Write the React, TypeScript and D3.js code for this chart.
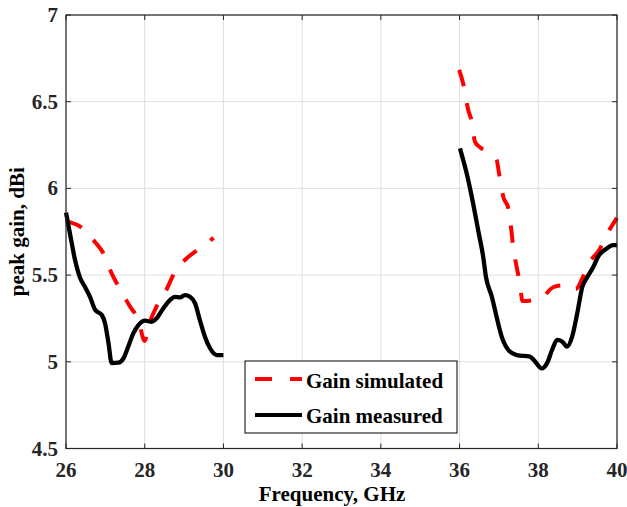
import React from "react";
import * as d3 from "d3";

const xTicks = [26, 28, 30, 32, 34, 36, 38, 40];
const yTicks = [4.5, 5, 5.5, 6, 6.5, 7];
const yTickLabels = ["4.5", "5", "5.5", "6", "6.5", "7"];

// Gain simulated (two bands)
const simLowF = [26.0, 26.36, 26.74, 26.95, 27.16, 27.37, 27.63, 27.84, 28.0, 28.09, 28.3, 28.56, 28.77, 29.02, 29.4, 29.75];
const simLowG = [5.81, 5.78, 5.69, 5.626, 5.51, 5.42, 5.318, 5.24, 5.12, 5.2, 5.318, 5.42, 5.52, 5.587, 5.655, 5.715];
const simHighF = [35.99, 36.1, 36.22, 36.31, 36.39, 36.52, 36.69, 36.94, 37.01, 37.11, 37.24, 37.32, 37.36, 37.45, 37.53, 37.6, 38.06, 38.38, 38.6, 38.85, 38.95, 39.02, 39.1, 39.31, 39.52, 39.78, 40.0];
const simHighG = [6.683, 6.596, 6.452, 6.385, 6.27, 6.237, 6.212, 6.164, 6.077, 5.952, 5.885, 5.75, 5.664, 5.548, 5.453, 5.35, 5.366, 5.43, 5.44, 5.44, 5.42, 5.433, 5.472, 5.577, 5.635, 5.75, 5.83];

// Gain measured (two bands)
const measLowF = [26.0, 26.1, 26.23, 26.36, 26.48, 26.61, 26.74, 26.91, 26.99, 27.08, 27.16, 27.33, 27.46, 27.58, 27.71, 27.84, 28.01, 28.18, 28.3, 28.47, 28.64, 28.77, 28.9, 29.02, 29.15, 29.28, 29.4, 29.53, 29.66, 29.83, 30.0];
const measLowG = [5.86, 5.74, 5.587, 5.483, 5.433, 5.375, 5.3, 5.27, 5.224, 5.107, 4.993, 4.995, 5.02, 5.087, 5.164, 5.212, 5.237, 5.231, 5.25, 5.308, 5.356, 5.375, 5.372, 5.385, 5.375, 5.337, 5.241, 5.145, 5.078, 5.039, 5.039];
const measHighF = [36.01, 36.18, 36.31, 36.48, 36.6, 36.67, 36.82, 36.94, 37.07, 37.24, 37.45, 37.79, 37.92, 38.09, 38.22, 38.35, 38.48, 38.61, 38.73, 38.86, 38.99, 39.12, 39.23, 39.4, 39.52, 39.74, 39.9, 40.0];
const measHighG = [6.231, 6.087, 5.952, 5.75, 5.606, 5.49, 5.375, 5.26, 5.145, 5.068, 5.039, 5.03, 5.001, 4.962, 4.991, 5.068, 5.126, 5.116, 5.087, 5.145, 5.28, 5.433, 5.482, 5.548, 5.606, 5.654, 5.673, 5.673];

const legendLabels = ["Gain simulated", "Gain measured"];

const W = 627;
const H = 507;
const left = 66, right = 617, top = 15, bottom = 448.5;
const font = "'Liberation Serif', 'Times New Roman', serif";
const axisColor = "#262626";
const fs = 21;

export default function App() {
  const x = d3.scaleLinear().domain([26, 40]).range([left, right]);
  const y = d3.scaleLinear().domain([4.5, 7]).range([bottom, top]);
  const line = d3
    .line<[number, number]>()
    .x((d) => x(d[0]))
    .y((d) => y(d[1]))
    .curve(d3.curveMonotoneX);
  const zip = (a: number[], b: number[]) => a.map((v, i) => [v, b[i]] as [number, number]);

  const dash = "17 17";
  const tickLen = 5;

  return (
    <div style={{ position: "absolute", left: 0, top: 0 }}>
      <svg width={W} height={H} style={{ display: "block", background: "#fff" }}>
        <rect x={0} y={0} width={W} height={H} fill="#fff" />
        {/* grid */}
        {xTicks.map((t) => (
          <line key={"gx" + t} x1={x(t)} x2={x(t)} y1={top} y2={bottom} stroke="#dedede" strokeWidth={1} />
        ))}
        {yTicks.map((t) => (
          <line key={"gy" + t} x1={left} x2={right} y1={y(t)} y2={y(t)} stroke="#dedede" strokeWidth={1} />
        ))}
        {/* ticks */}
        {xTicks.map((t) => (
          <g key={"tx" + t}>
            <line x1={x(t)} x2={x(t)} y1={bottom} y2={bottom - tickLen} stroke={axisColor} />
            <line x1={x(t)} x2={x(t)} y1={top} y2={top + tickLen} stroke={axisColor} />
            <text x={x(t)} y={477} textAnchor="middle" fontFamily={font} fontWeight="bold" fontSize={fs} fill={axisColor}>
              {t}
            </text>
          </g>
        ))}
        {yTicks.map((t, i) => (
          <g key={"ty" + t}>
            <line x1={left} x2={left + tickLen} y1={y(t)} y2={y(t)} stroke={axisColor} />
            <line x1={right} x2={right - tickLen} y1={y(t)} y2={y(t)} stroke={axisColor} />
            <text x={58} y={y(t) + 7} textAnchor="end" fontFamily={font} fontWeight="bold" fontSize={fs} fill={axisColor}>
              {yTickLabels[i]}
            </text>
          </g>
        ))}
        {/* data */}
        <path d={line(zip(simLowF, simLowG)) || ""} fill="none" stroke="#ff0000" strokeWidth={4} strokeDasharray={dash} />
        <path d={line(zip(simHighF, simHighG)) || ""} fill="none" stroke="#ff0000" strokeWidth={4} strokeDasharray={dash} />
        <path d={line(zip(measLowF, measLowG)) || ""} fill="none" stroke="#000" strokeWidth={4.3} strokeLinejoin="round" />
        <path d={line(zip(measHighF, measHighG)) || ""} fill="none" stroke="#000" strokeWidth={4.3} strokeLinejoin="round" />
        {/* box */}
        <rect x={left} y={top} width={right - left} height={bottom - top} fill="none" stroke={axisColor} strokeWidth={1.2} />
        {/* axis titles */}
        <text x={332} y={501} textAnchor="middle" fontFamily={font} fontWeight="bold" fontSize={fs} fill="#000">
          Frequency, GHz
        </text>
        <text
          transform={`translate(24, ${(top + bottom) / 2}) rotate(-90)`}
          textAnchor="middle"
          fontFamily={font}
          fontWeight="bold"
          fontSize={fs}
          fill="#000"
        >
          peak gain, dBi
        </text>
        {/* legend */}
        <rect x={245} y={361} width={212} height={72} fill="#fff" stroke="#000" strokeWidth={1} />
        <line x1={255} x2={302} y1={379} y2={379} stroke="#ff0000" strokeWidth={4} strokeDasharray="17 18" />
        <text x={306} y={388} fontFamily={font} fontWeight="bold" fontSize={fs} fill="#000">
          {legendLabels[0]}
        </text>
        <line x1={255} x2={302} y1={415} y2={415} stroke="#000" strokeWidth={4} />
        <text x={306} y={423} fontFamily={font} fontWeight="bold" fontSize={fs} fill="#000">
          {legendLabels[1]}
        </text>
      </svg>
    </div>
  );
}
